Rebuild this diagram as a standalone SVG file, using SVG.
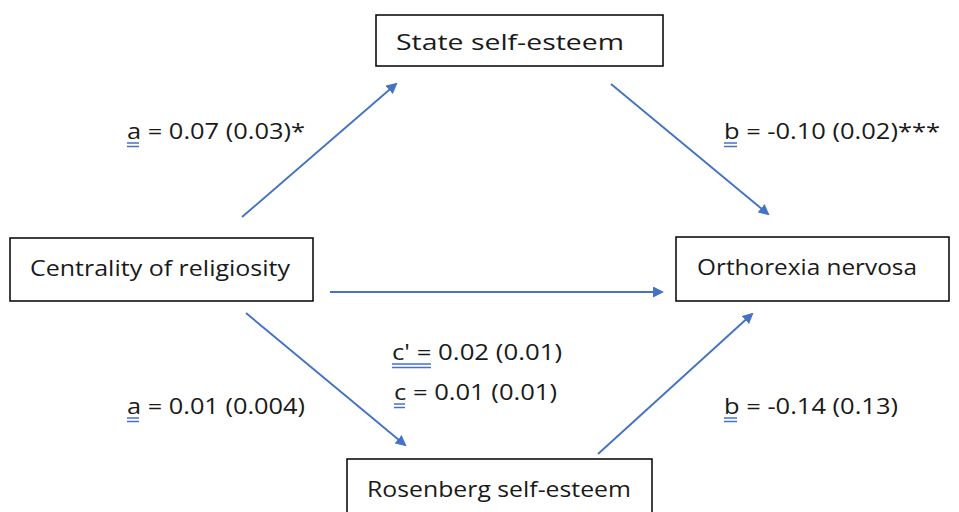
<svg xmlns="http://www.w3.org/2000/svg" width="959" height="512" viewBox="0 0 959 512">
<style>
.box{fill:#fff;stroke:#000;stroke-width:1.5}
.t{font-family:"Open Sans","Noto Sans",sans-serif;font-size:22px;fill:#1a1a1a}
.c{stroke:#4472C4;stroke-width:1.9;fill:none;marker-end:url(#ah)}
.u{stroke:#4472C4;stroke-width:1.5}
</style>
<defs>
<marker id="ah" markerWidth="11" markerHeight="11" refX="9" refY="5.5" orient="auto" markerUnits="userSpaceOnUse" viewBox="0 0 11 11">
<path d="M0,0 L11,5.5 L0,11 z" fill="#4472C4"/>
</marker>
</defs>
<rect width="959" height="512" fill="#fff"/>
<g id="connectors">
<line class="c" x1="242" y1="217" x2="396" y2="84"/>
<line class="c" x1="611" y1="84" x2="768" y2="214"/>
<line class="c" x1="330" y1="292" x2="662" y2="292"/>
<line class="c" x1="246" y1="313" x2="405" y2="445"/>
<line class="c" x1="598" y1="454" x2="752" y2="314"/>
</g>
<g id="state">
<rect class="box" x="376" y="15" width="287" height="51"/>
<text class="t" x="396" y="50" textLength="228" lengthAdjust="spacingAndGlyphs">State self-esteem</text>
</g>
<g id="centrality">
<rect class="box" x="10" y="238" width="303" height="63"/>
<text class="t" x="30" y="276" textLength="260" lengthAdjust="spacingAndGlyphs">Centrality of religiosity</text>
</g>
<g id="orthorexia">
<rect class="box" x="676" y="237" width="273" height="64"/>
<text class="t" x="697" y="275" textLength="220" lengthAdjust="spacingAndGlyphs">Orthorexia nervosa</text>
</g>
<g id="rosenberg">
<rect class="box" x="347" y="459" width="305" height="60"/>
<text class="t" x="367" y="497" textLength="264" lengthAdjust="spacingAndGlyphs">Rosenberg self-esteem</text>
</g>
<g id="labels">
<text class="t" x="127" y="139" textLength="178" lengthAdjust="spacingAndGlyphs">a = 0.07 (0.03)*</text>
<line class="u" x1="127" y1="143" x2="139" y2="143"/><line class="u" x1="127" y1="146.5" x2="139" y2="146.5"/>
<text class="t" x="724" y="139" textLength="216" lengthAdjust="spacingAndGlyphs">b = -0.10 (0.02)***</text>
<line class="u" x1="724" y1="143" x2="737" y2="143"/><line class="u" x1="724" y1="146.5" x2="737" y2="146.5"/>
<text class="t" x="392" y="360" textLength="170" lengthAdjust="spacingAndGlyphs">c' = 0.02 (0.01)</text>
<line class="u" x1="392" y1="364" x2="431" y2="364"/><line class="u" x1="392" y1="367.5" x2="431" y2="367.5"/>
<text class="t" x="394" y="400" textLength="163" lengthAdjust="spacingAndGlyphs">c = 0.01 (0.01)</text>
<line class="u" x1="394" y1="404" x2="405" y2="404"/><line class="u" x1="394" y1="407.5" x2="405" y2="407.5"/>
<text class="t" x="127" y="414" textLength="178" lengthAdjust="spacingAndGlyphs">a = 0.01 (0.004)</text>
<line class="u" x1="127" y1="418" x2="139" y2="418"/><line class="u" x1="127" y1="421.5" x2="139" y2="421.5"/>
<text class="t" x="724" y="414" textLength="174" lengthAdjust="spacingAndGlyphs">b = -0.14 (0.13)</text>
<line class="u" x1="724" y1="418" x2="737" y2="418"/><line class="u" x1="724" y1="421.5" x2="737" y2="421.5"/>
</g>
</svg>
